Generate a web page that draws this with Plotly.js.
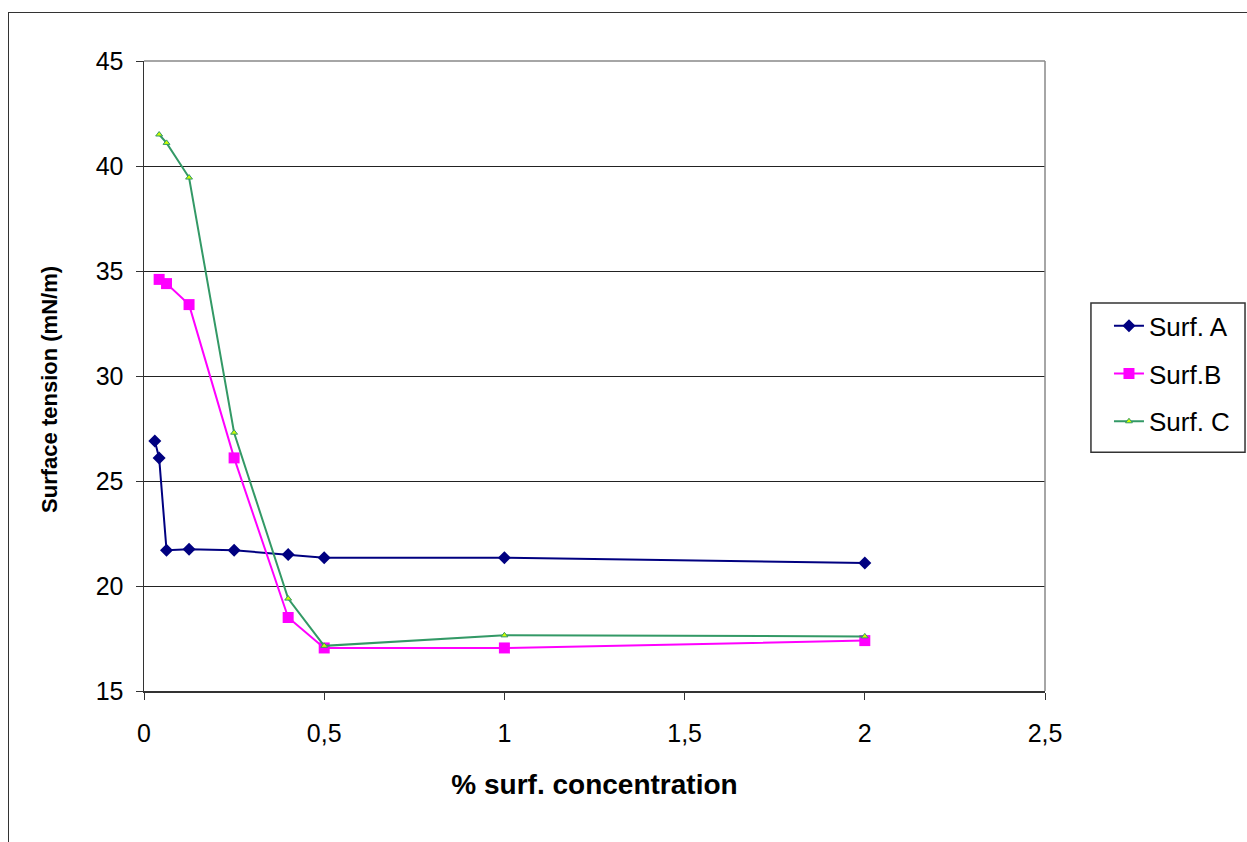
<!DOCTYPE html>
<html>
<head>
<meta charset="utf-8">
<script src="https://cdn.plot.ly/plotly-3.0.1.min.js"></script>
<style>
html,body{margin:0;padding:0;background:#fff;overflow:hidden;}
#frame{position:absolute;left:8px;top:12px;width:1400px;height:1000px;border:1px solid #333;box-sizing:border-box;}
#chart{position:absolute;left:0;top:0;width:1247px;height:842px;}
</style>
</head>
<body>
<div id="frame"></div>
<div id="chart"></div>
<script>
const xA = [0.03, 0.042, 0.0625, 0.125, 0.25, 0.4, 0.5, 1, 2];
const yA = [26.9, 26.1, 21.7, 21.75, 21.7, 21.5, 21.35, 21.35, 21.1];
const xB = [0.042, 0.0625, 0.125, 0.25, 0.4, 0.5, 1, 2];
const yB = [34.6, 34.4, 33.4, 26.1, 18.5, 17.05, 17.05, 17.4];
const xC = [0.042, 0.0625, 0.125, 0.25, 0.4, 0.5, 1, 2];
const yC = [41.5, 41.1, 39.45, 27.3, 19.4, 17.15, 17.65, 17.6];
const namesS = ["Surf. A", "Surf.B", "Surf. C"];
const xTicks = [0, 0.5, 1, 1.5, 2, 2.5];
const yTicks = [15, 20, 25, 30, 35, 40, 45];

const traces = [
  {x: xA, y: yA, name: namesS[0], type: 'scatter', mode: 'lines+markers', legendgroup: 'a',
   line: {color: '#000080', width: 2}, marker: {symbol: 'diamond', size: 10, color: '#000080'}},
  {x: xB, y: yB, name: namesS[1], type: 'scatter', mode: 'lines+markers', legendgroup: 'b',
   line: {color: '#FF00FF', width: 2}, marker: {symbol: 'square', size: 11, color: '#FF00FF'}},
  {x: xC, y: yC, name: namesS[2], type: 'scatter', mode: 'lines+markers', legendgroup: 'c',
   line: {color: '#339966', width: 2}, marker: {symbol: 'triangle-up', size: 6, color: '#CCFF00', line: {color: '#339966', width: 1}}}
];

const layout = {
  width: 1247, height: 842,
  paper_bgcolor: 'rgba(0,0,0,0)', plot_bgcolor: '#fff',
  margin: {l: 144, r: 202, t: 61, b: 151},
  separators: ', ',
  font: {family: 'Liberation Sans, Arial, sans-serif', color: '#000', size: 24},
  showlegend: true,
  legend: {x: 1.071, xanchor: 'left', y: 0.617, yanchor: 'top',
    borderwidth: 0, bgcolor: 'rgba(0,0,0,0)',
    font: {size: 26}, traceorder: 'grouped', tracegroupgap: 11, itemwidth: 30},
  xaxis: {range: [0, 2.5], tickvals: xTicks, ticktext: xTicks.map(v => String(v).replace('.', ',')),
    showgrid: false, zeroline: false, showline: true, linecolor: '#333', linewidth: 1.5,
    ticks: 'outside', ticklen: 7, tickcolor: '#333', ticklabelstandoff: 12,
    tickfont: {size: 25},
    title: {text: '<b>% surf. concentration</b>', font: {size: 28}, standoff: 29}},
  yaxis: {range: [15, 45], tickvals: yTicks, showgrid: true, gridcolor: '#222', gridwidth: 1,
    zeroline: false, showline: true, linecolor: '#333', linewidth: 1.5,
    ticks: 'outside', ticklen: 7, tickcolor: '#333', ticklabelstandoff: 7,
    tickfont: {size: 25}},
  annotations: [
    {text: '<b>Surface tension (mN/m)</b>', xref: 'paper', yref: 'paper',
     x: -0.1043, y: 0.478, xanchor: 'center', yanchor: 'middle', textangle: -90, showarrow: false,
     font: {size: 22}}
  ],
  shapes: [
    {type: 'line', xref: 'paper', yref: 'paper', x0: 0, x1: 1, y0: 1, y1: 1, line: {color: '#888', width: 1.5}},
    {type: 'line', xref: 'paper', yref: 'paper', x0: 1, x1: 1, y0: 0, y1: 1, line: {color: '#888', width: 1.5}},
    {type: 'rect', xref: 'paper', yref: 'paper', x0: 1.051, x1: 1.222, y0: 0.379, y1: 0.616,
     line: {color: '#333', width: 1.5}, fillcolor: '#fff', layer: 'below'}
  ]
};

Plotly.newPlot('chart', traces, layout, {displayModeBar: false, staticPlot: true});
</script>
</body>
</html>
